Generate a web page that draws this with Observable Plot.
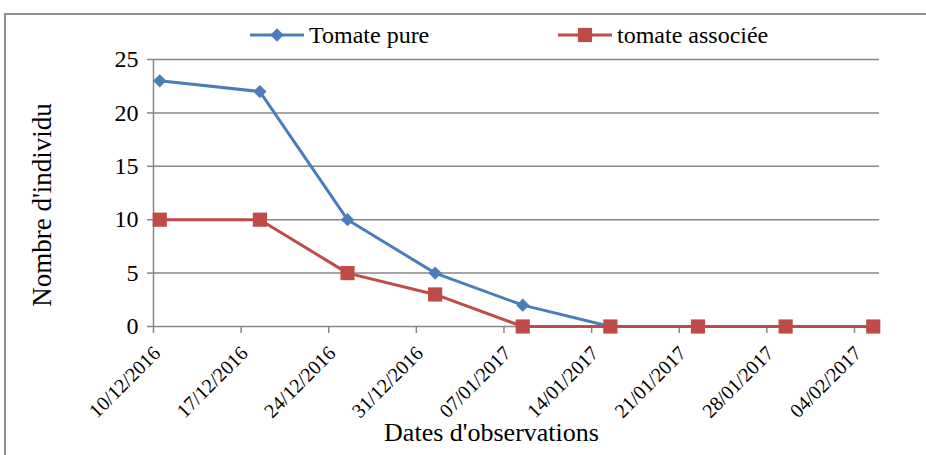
<!DOCTYPE html>
<html>
<head>
<meta charset="utf-8">
<script src="https://cdn.jsdelivr.net/npm/d3@7"></script>
<script src="https://cdn.jsdelivr.net/npm/@observablehq/plot@0.6"></script>
<style>
  html, body { margin: 0; padding: 0; background: #fff; overflow: hidden; }
  #wrap { position: relative; width: 926px; height: 455px; overflow: hidden; }
  #frame { position: absolute; left: 4px; top: 13px; width: 960px; height: 480px;
           border-left: 2px solid #8e8e8e; border-top: 2px solid #8e8e8e; pointer-events: none; }
  #wrap svg { display: block; }
  #wrap svg text { font-family: "Liberation Serif", "Times New Roman", serif !important; }
</style>
</head>
<body>
<div id="wrap"><div id="frame"></div></div>
<script>
// Observation dates (dd/mm/yyyy) and counts per plot type
const dates = ["10/12/2016", "18/12/2016", "25/12/2016", "01/01/2017", "08/01/2017",
               "15/01/2017", "22/01/2017", "29/01/2017", "05/02/2017"];
const tomatePure = [23, 22, 10, 5, 2, 0, 0, 0, 0];
const tomateAssociee = [10, 10, 5, 3, 0, 0, 0, 0, 0];

// Weekly tick labels on the date axis
const tickLabels = ["10/12/2016", "17/12/2016", "24/12/2016", "31/12/2016", "07/01/2017",
                    "14/01/2017", "21/01/2017", "28/01/2017", "04/02/2017"];
const yTicks = [0, 5, 10, 15, 20, 25];

const seriesNames = ["Tomate pure", "tomate associée"];
const seriesColors = ["#4A7EBB", "#BE4B48"];
const seriesSymbols = ["diamond2", "square"];

const parse = (s) => { const [d, m, y] = s.split("/").map(Number); return new Date(Date.UTC(y, m - 1, d)); };
const fmt = d3.utcFormat("%d/%m/%Y");

// Each value sits in the middle of its day
const rows = [];
[tomatePure, tomateAssociee].forEach((vals, i) => {
  vals.forEach((v, j) => rows.push({series: seriesNames[i], date: d3.utcHour.offset(parse(dates[j]), 12), value: v}));
});

const tickDates = tickLabels.map(parse);
const xDomain = [tickDates[0], d3.utcDay.offset(parse(dates[dates.length - 1]), 1)];
const axisGray = "#878787";
const serif = "'Liberation Serif', 'Times New Roman', serif";

const chart = Plot.plot({
  width: 926,
  height: 455,
  marginTop: 59,
  marginBottom: 129,
  marginLeft: 153,
  marginRight: 47,
  style: {fontFamily: serif, color: "#000", background: "transparent", overflow: "visible"},
  x: {type: "utc", domain: xDomain},
  y: {domain: [0, 25]},
  color: {domain: seriesNames, range: seriesColors},
  marks: [
    Plot.gridY(yTicks, {stroke: axisGray, strokeOpacity: 1, strokeWidth: 1.5}),
    Plot.ruleX([xDomain[0]], {stroke: axisGray, strokeWidth: 1.5}),
    Plot.axisY(yTicks, {tickSize: 6, tickPadding: 9, fontSize: 24, stroke: axisGray, strokeWidth: 1.5, label: null, tickFormat: (d) => String(d)}),
    // tick marks on the date axis; their labels are drawn below, slanted
    Plot.axisX(tickDates, {tickSize: 7, stroke: axisGray, strokeWidth: 1.5, label: null, tickFormat: () => ""}),
    Plot.text(tickDates, {x: (d) => d, text: fmt, frameAnchor: "bottom", textAnchor: "end", rotate: -45, dx: 8, dy: 28, fontSize: 20}),
    Plot.text(["Dates d'observations"], {frameAnchor: "bottom", dx: -25, dy: 114, fontSize: 26}),
    Plot.text(["Nombre d'individu"], {frameAnchor: "left", textAnchor: "middle", rotate: -90, dx: -111, dy: 12, fontSize: 27}),
    Plot.line(rows, {x: "date", y: "value", z: "series", stroke: "series", strokeWidth: 3}),
    ...seriesNames.map((name, i) =>
      Plot.dot(rows.filter((r) => r.series === name), {
        x: "date", y: "value", symbol: () => seriesSymbols[i], fill: seriesColors[i], stroke: "none",
        r: i === 0 ? 6 : 8
      })
    )
  ]
});

// Legend row above the plot area
const svg = d3.select(chart);
const legendX = [250, 558];
const legend = svg.append("g").attr("font-size", 24).attr("text-anchor", "start");
const symbolTypes = [d3.symbolDiamond2, d3.symbolSquare];
const symbolSizes = [Math.PI * 36, Math.PI * 64];
seriesNames.forEach((name, i) => {
  const g = legend.append("g").attr("transform", `translate(${legendX[i]},35)`);
  g.append("line").attr("x1", 0).attr("x2", 54).attr("stroke", seriesColors[i]).attr("stroke-width", 3);
  g.append("path").attr("transform", "translate(27,0)").attr("d", d3.symbol(symbolTypes[i], symbolSizes[i])()).attr("fill", seriesColors[i]);
  g.append("text").attr("x", 59).attr("dy", "0.35em").attr("text-anchor", "start").text(name);
});

document.getElementById("wrap").prepend(chart);
</script>
</body>
</html>
